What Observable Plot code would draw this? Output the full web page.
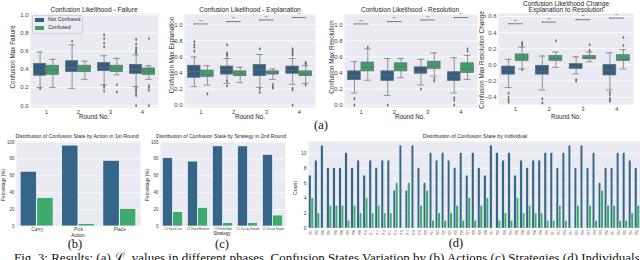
<!DOCTYPE html>
<html><head><meta charset="utf-8">
<script src="https://cdn.jsdelivr.net/npm/d3@7"></script>
<script src="https://cdn.jsdelivr.net/npm/@observablehq/plot@0.6"></script>
<style>
body{margin:0;background:#fff;}
#root{position:relative;width:640px;height:260px;overflow:hidden;font-family:"Liberation Sans",Arial,sans-serif;}
.p{position:absolute;}
</style></head><body><div id="root"></div>
<script>
// ---------- (a) box-plot statistics: [whiskerLow, q1, median, q3, whiskerHigh] per round ----------
const rounds = [1, 2, 3, 4];
const hues = ["Not Confused", "Confused"];

const failNC = [[0.20,0.33,0.40,0.46,0.59],[0.19,0.37,0.42,0.49,0.67],[0.23,0.38,0.42,0.47,0.55],[0.21,0.35,0.40,0.45,0.56]];
const failC  = [[0.20,0.34,0.39,0.44,0.51],[0.29,0.37,0.41,0.44,0.49],[0.34,0.37,0.41,0.44,0.52],[0.29,0.34,0.38,0.41,0.44]];
const failNCOut = [[0.19],[0.71],[0.78,0.74,0.69,0.65,0.22,0.20,0.16],[0.73,0.68,0.64,0.62,0.60,0.59,0.58,0.20,0.18,0.16,0.13,0.11,0.0]];
const failCOut  = [[],[],[0.23,0.15],[0.74,0.22,0.20,0.17,0.0]];

const explNC = [[0.23,0.34,0.42,0.49,0.60],[0.27,0.38,0.44,0.48,0.58],[0.22,0.36,0.44,0.50,0.63],[0.26,0.39,0.43,0.48,0.58]];
const explC  = [[0.25,0.35,0.38,0.43,0.49],[0.28,0.36,0.39,0.42,0.47],[0.32,0.38,0.40,0.42,0.45],[0.27,0.36,0.39,0.42,0.49]];
const explNCOut = [[0.67,0.72,0.75,0.79],[0.61,0.63,0.65,0.75,0.30,0.24],[0.70,0.20,0.16],[0.70,0.68,0.66,0.64,0.62,0.21,0.19,0.0]];
const explCOut  = [[0.14],[],[0.26,0.23,0.21],[0.53,0.52,0.51,0.25]];
const explSig = [1.01, 1.04, 1.06, 1.09];

const resNC = [[0.15,0.31,0.36,0.42,0.54],[0.12,0.30,0.37,0.42,0.58],[0.25,0.39,0.41,0.47,0.57],[0.15,0.30,0.36,0.41,0.59]];
const resC  = [[0.31,0.42,0.47,0.53,0.70],[0.34,0.42,0.48,0.52,0.58],[0.36,0.45,0.49,0.54,0.65],[0.32,0.40,0.45,0.52,0.62]];
const resNCOut = [[0.08,0.0],[0.0],[0.20],[0.09,0.06,0.0]];
const resCOut  = [[0.72],[],[0.33,0.30],[0.67,0.70]];
const resSig = [1.01, 1.04, 1.06, 1.09];

const chgNC = [[-0.28,-0.12,-0.05,-0.02,0.07],[-0.31,-0.12,-0.08,-0.01,0.11],[-0.11,-0.05,-0.03,0.01,0.10],[-0.31,-0.13,-0.07,0.00,0.15]];
const chgC  = [[-0.05,0.05,0.09,0.13,0.22],[-0.03,0.05,0.08,0.11,0.16],[0.04,0.07,0.09,0.11,0.16],[-0.05,0.05,0.07,0.12,0.19]];
const chgNCOut = [[-0.35,-0.40,-0.43,-0.46],[-0.42,-0.47],[-0.18,-0.20],[-0.34,-0.37,-0.41,-0.43,-0.45]];
const chgCOut  = [[0.24,0.26,0.28,-0.06],[0.30],[0.18,0.25],[0.24,0.34]];
const chgSig = [0.51, 0.53, 0.56, 0.58];

// ---------- (b) ----------
const actions = ["Carry", "Pick", "Place"];
const actionNC = [65, 96, 78];
const actionC = [34, 3, 21];

// ---------- (c) ----------
const strategies = ["C1 Fixed Low", "C2 Fixed Medium", "C3 Fixed High", "C1 Decay Smooth", "C2 Decay Rapid"];
const strategyNC = [81, 77, 95, 95, 85];
const strategyC = [17, 22, 4, 4, 13];

// ---------- (d) ----------
const individuals = ["P01","P02","P03","P04","P05","P06","P07","P08","P09","P10","P11","P12","P13","P14","P15","P16","P17","P18","P19","P20","P21","P22","P23","P24","P25","P26","P27","P28","P29","P30","P31","P32","P33","P34","P35","P36","P37","P38","P39","P40","P41","P42","P43","P44","P45","P46","P47","P48","P49","P50","P51","P52","P53","P54","P55"];
const indivNC = [7,9,11,8,8,8,10,8,9,7,9,8,9,9,5,11,5,11,8,6,10,9,10,9,8,10,7,10,8,7,11,10,9,10,7,9,8,9,9,10,10,8,10,11,8,11,8,10,6,8,8,10,10,9,8];
const indivC  = [4,2,0,3,3,3,1,3,2,4,2,3,2,2,6,0,6,0,3,5,1,2,1,2,3,1,4,1,3,4,0,1,2,1,4,2,3,2,2,1,1,3,1,0,3,0,3,1,5,3,3,1,1,2,3];

// ---------- styling ----------
const BG = "#EAEAF2";
const boxCol = ["#325F80", "#3E9F6B"];
const barCol = ["#35668A", "#3FAA6D"];
const LINE = "#6a6a6a";
const root = document.getElementById("root");

function place(svg, left, top) {
  const d = document.createElement("div");
  d.className = "p"; d.style.left = left + "px"; d.style.top = top + "px";
  d.appendChild(svg); root.appendChild(d);
}
function addText(txt, x, y, size, o = {}) {
  const el = document.createElement("div");
  el.innerHTML = txt;
  el.style.cssText = `position:absolute;left:${x}px;top:${y}px;font-size:${size}px;line-height:1;white-space:nowrap;color:${o.color || "#262626"};transform:translate(-50%,-50%)${o.rot ? " rotate(-90deg)" : ""};font-family:${o.serif ? '"Liberation Serif","Times New Roman",serif' : '"Liberation Sans",Arial,sans-serif'}`;
  root.appendChild(el);
  return el;
}
const baseStyle = {background: "transparent", color: "#444", fontFamily: '"Liberation Sans",Arial,sans-serif', overflow: "visible"};

function boxPanel({nc, c, ncOut, cOut, sig, domain, ticks, width, height, margins, left, top}) {
  const rows = rounds.flatMap((r, i) => [
    {round: r, hue: hues[0], off: -0.2, s: nc[i]},
    {round: r, hue: hues[1], off: 0.2, s: c[i]}
  ]);
  const outs = rounds.flatMap((r, i) => [
    ...ncOut[i].map(v => ({round: r, off: -0.2, v})),
    ...cOut[i].map(v => ({round: r, off: 0.2, v}))
  ]);
  const cx = d => d.round + d.off;
  const sigRows = sig ? rounds.map((r, i) => ({round: r, y: sig[i]})) : [];
  const drop = (domain[1] - domain[0]) * 0.012;
  const svg = Plot.plot({
    width, height,
    marginLeft: margins[0], marginRight: margins[1], marginTop: margins[2], marginBottom: margins[3],
    x: {domain: [0.5, 4.5]},
    y: {domain},
    color: {domain: hues, range: boxCol},
    style: baseStyle,
    marks: [
      Plot.frame({fill: BG, stroke: null}),
      Plot.gridY(ticks, {stroke: "white", strokeOpacity: 1, strokeWidth: 0.8}),
      Plot.axisY(ticks, {tickSize: 0, tickPadding: 2, fontSize: 6, tickFormat: d3.format(".1f"), label: null}),
      Plot.axisX(rounds, {tickSize: 0, tickPadding: 2, fontSize: 6, label: null}),
      Plot.ruleX(rows, {x: cx, y1: d => d.s[0], y2: d => d.s[1], stroke: LINE, strokeWidth: 0.7}),
      Plot.ruleX(rows, {x: cx, y1: d => d.s[3], y2: d => d.s[4], stroke: LINE, strokeWidth: 0.7}),
      Plot.ruleY(rows, {y: d => d.s[0], x1: d => cx(d) - 0.1, x2: d => cx(d) + 0.1, stroke: LINE, strokeWidth: 0.7}),
      Plot.ruleY(rows, {y: d => d.s[4], x1: d => cx(d) - 0.1, x2: d => cx(d) + 0.1, stroke: LINE, strokeWidth: 0.7}),
      Plot.rect(rows, {x1: d => cx(d) - 0.19, x2: d => cx(d) + 0.19, y1: d => d.s[1], y2: d => d.s[3], fill: "hue", stroke: LINE, strokeWidth: 0.7}),
      Plot.ruleY(rows, {y: d => d.s[2], x1: d => cx(d) - 0.19, x2: d => cx(d) + 0.19, stroke: LINE, strokeWidth: 0.7}),
      Plot.dot(outs, {x: cx, y: "v", symbol: "diamond", r: 1.1, fill: LINE, stroke: null}),
      Plot.ruleY(sigRows, {y: "y", x1: d => d.round - 0.2, x2: d => d.round + 0.2, stroke: "#333", strokeWidth: 0.6}),
      Plot.ruleX(sigRows, {x: d => d.round - 0.2, y1: d => d.y - drop, y2: "y", stroke: "#333", strokeWidth: 0.6}),
      Plot.ruleX(sigRows, {x: d => d.round + 0.2, y1: d => d.y - drop, y2: "y", stroke: "#333", strokeWidth: 0.6}),
      Plot.text(sigRows, {x: "round", y: "y", text: () => "**", dy: -2.5, fontSize: 4, fill: "#333"})
    ]
  });
  place(svg, left, top);
}

const t01 = [0, 0.2, 0.4, 0.6, 0.8, 1.0];
boxPanel({nc: failNC, c: failC, ncOut: failNCOut, cOut: failCOut, sig: null, domain: [-0.02, 1.015], ticks: t01,
  width: 162, height: 122, margins: [30, 4, 13, 15], left: 0, top: 0});
boxPanel({nc: explNC, c: explC, ncOut: explNCOut, cOut: explCOut, sig: explSig, domain: [-0.03, 1.128], ticks: t01,
  width: 158, height: 122, margins: [24, 3, 14, 15], left: 160, top: 0});
boxPanel({nc: resNC, c: resC, ncOut: resNCOut, cOut: resCOut, sig: resSig, domain: [-0.03, 1.128], ticks: t01,
  width: 160, height: 122, margins: [24, 3, 14, 15], left: 320, top: 0});
boxPanel({nc: chgNC, c: chgC, ncOut: chgNCOut, cOut: chgCOut, sig: chgSig, domain: [-0.49, 0.637], ticks: [-0.4, -0.2, 0, 0.2, 0.4, 0.6],
  width: 162, height: 122, margins: [20, 7, 13, 18], left: 478, top: 0});

// titles & labels (a)
addText("Confusion Likelihood - Failure", 94, 9.5, 6.6);
addText("Confusion Likelihood - Explanation", 250, 9.5, 6.6);
addText("Confusion Likelihood - Resolution", 410, 9.5, 6.6);
addText("Confusion Likelihood Change", 566, 3.8, 6.6);
addText("Explanation to Resolution", 566, 9.8, 6.6);
addText("Confusion Max Failure", 13, 57, 6.3, {rot: true});
addText("Confusion Max Explanation", 172, 55, 6.3, {rot: true});
addText("Confusion Max Resolution", 332, 57, 6.3, {rot: true});
addText("Confusion Max Resolution Change", 482, 60, 6.3, {rot: true});
[94, 250, 410, 566].forEach(x => addText("Round No.", x, 116.5, 6.3));

// legend
const lg = document.createElement("div");
lg.style.cssText = `position:absolute;left:32px;top:15px;width:49px;height:17px;background:rgba(236,236,244,0.9);border:0.6px solid #d0d0d8;border-radius:1.5px;`;
root.appendChild(lg);
hues.forEach((h, i) => {
  const sw = document.createElement("div");
  sw.style.cssText = `position:absolute;left:35px;top:${18 + i * 7.5}px;width:9px;height:4px;background:${boxCol[i]};`;
  root.appendChild(sw);
  const tx = document.createElement("div");
  tx.textContent = h;
  tx.style.cssText = `position:absolute;left:48px;top:${17.3 + i * 7.5}px;font-size:5.3px;line-height:1;color:#262626;white-space:nowrap;`;
  root.appendChild(tx);
});

// ---------- bar panels ----------
function barPanel({cats, nc, c, domain, ticks, width, height, margins, left, top, xFont, yFont, xRotate, edge}) {
  const rows = cats.flatMap((k, i) => [
    {i, hue: hues[0], off: -0.2, v: nc[i]},
    {i, hue: hues[1], off: 0.2, v: c[i]}
  ]);
  const idx = cats.map((k, i) => i);
  const svg = Plot.plot({
    width, height,
    marginLeft: margins[0], marginRight: margins[1], marginTop: margins[2], marginBottom: margins[3],
    x: {domain: [-0.5, cats.length - 0.5]},
    y: {domain},
    color: {domain: hues, range: barCol},
    style: baseStyle,
    marks: [
      Plot.frame({fill: BG, stroke: null}),
      Plot.gridY(ticks, {stroke: "white", strokeOpacity: 1, strokeWidth: 0.7}),
      Plot.axisY(ticks, {tickSize: 0, tickPadding: 2, fontSize: yFont, label: null}),
      Plot.axisX(idx, {tickSize: 0, tickPadding: 1.5, fontSize: xFont, label: null, tickFormat: i => cats[i], tickRotate: xRotate || 0}),
      Plot.rectY(rows, {x1: d => d.i + d.off - 0.2, x2: d => d.i + d.off + 0.2, y1: 0, y2: "v", fill: "hue", stroke: "white", strokeWidth: edge})
    ]
  });
  place(svg, left, top);
}
const t100 = [0, 20, 40, 60, 80, 100];
barPanel({cats: actions, nc: actionNC, c: actionC, domain: [0, 100.8], ticks: t100,
  width: 145, height: 112, margins: [16, 5, 11, 16], left: 0, top: 130, xFont: 4.8, yFont: 4.5, edge: 0.8});
barPanel({cats: strategies, nc: strategyNC, c: strategyC, domain: [0, 100.8], ticks: t100,
  width: 150, height: 112, margins: [15, 10, 11, 16], left: 145, top: 130, xFont: 2.9, yFont: 4.5, edge: 0.6});
barPanel({cats: individuals, nc: indivNC, c: indivC, domain: [0, 11.55], ticks: [0, 2, 4, 6, 8, 10],
  width: 350, height: 112, margins: [18, 0, 11, 14], left: 290, top: 130, xFont: 2.6, yFont: 5, xRotate: -90, edge: 0.3});

addText("Distribution of Confusion State by Action in 1st Round", 77, 137, 5.2);
addText("Distribution of Confusion State by Strategy in 2nd Round", 221, 137, 5.2);
addText("Distribution of Confusion State by Individual", 475, 137, 5.4);
addText("Percentage (%)", 3.5, 185, 4.6, {rot: true});
addText("Percentage (%)", 148, 185, 4.6, {rot: true});
addText("Count", 296, 188, 5.2, {rot: true});
addText("Action", 78, 236, 4.8);
addText("Strategy", 222, 233.5, 4.6);

// panel letters & caption
addText("(a)", 321, 125, 12.5, {serif: true, color: "#111"});
addText("(b)", 75, 243.5, 12.5, {serif: true, color: "#111"});
addText("(c)", 222, 243.5, 12.5, {serif: true, color: "#111"});
addText("(d)", 456, 243, 12.5, {serif: true, color: "#111"});
const cap = document.createElement("div");
cap.innerHTML = "Fig. 3: Results: (a) ℒ<sub style='font-size:8px'>c</sub> values in different phases. Confusion States Variation by (b) Actions (c) Strategies (d) Individuals.";
cap.style.cssText = `position:absolute;left:14px;top:251px;font-size:13px;line-height:1;white-space:nowrap;color:#111;font-family:"Liberation Serif","Times New Roman",serif;`;
root.appendChild(cap);
</script>
</body></html>
